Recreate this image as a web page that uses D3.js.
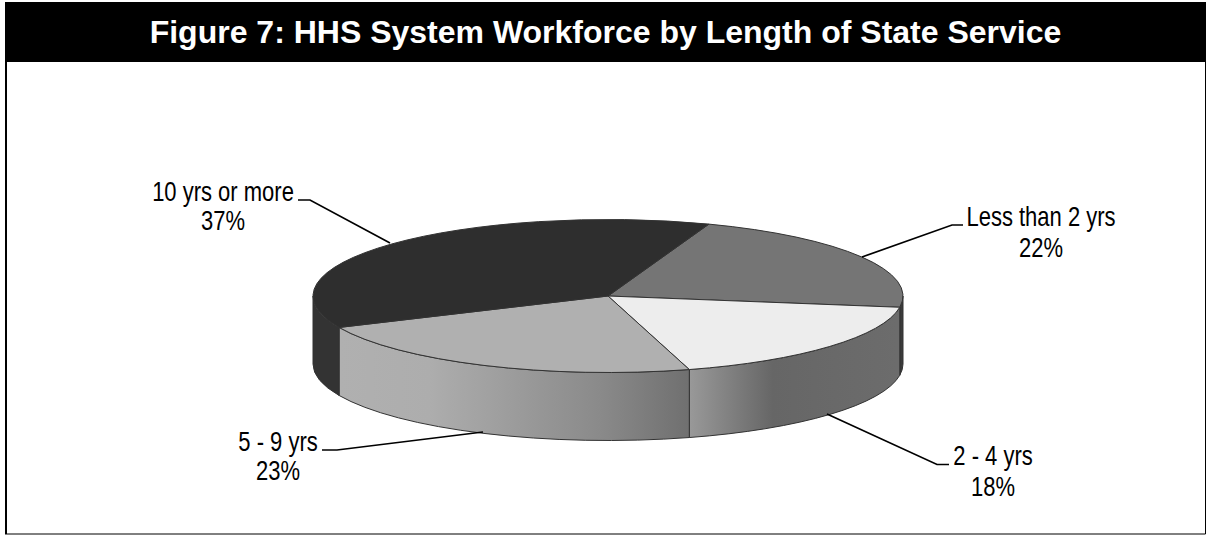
<!DOCTYPE html>
<html>
<head>
<meta charset="utf-8">
<script src="https://cdn.jsdelivr.net/npm/d3@7"></script>
<style>
body { margin: 0; background: #fff; }
text { font-family: "Liberation Sans", Arial, sans-serif; fill: #000; }
</style>
</head>
<body>
<script>
// data
var categories = ["Less than 2 yrs", "2 - 4 yrs", "5 - 9 yrs", "10 yrs or more"];
var values = [21.8, 18.2, 22.7, 37.3];
var topColors = ["#757575", "#ededed", "#b0b0b0", "#2e2e2e"];
var title = "Figure 7: HHS System Workforce by Length of State Service";

var width = 1206, height = 535;
var cx = 608, cy = 296, rx = 295, ry = 76.5, depth = 68;
var startDeg = 20;

var svg = d3.select("body").append("svg")
    .attr("width", width)
    .attr("height", height)
    .style("display", "block");

// frame and title bar
svg.append("path").attr("d", "M6,2V534").attr("stroke", "#000").attr("stroke-width", 2);
svg.append("path").attr("d", "M5,534H1205.5V2").attr("fill", "none").attr("stroke", "#000").attr("stroke-width", 1);
svg.append("rect").attr("x", 5).attr("y", 2).attr("width", 1201).attr("height", 60).attr("fill", "#000");
svg.append("text").attr("x", 605.5).attr("y", 42.5).attr("text-anchor", "middle")
    .style("font-weight", "bold").style("font-size", "32px").style("fill", "#fff")
    .text(title);

var pie = d3.pie().sort(null)
    .startAngle(startDeg * Math.PI / 180)
    .endAngle((startDeg + 360) * Math.PI / 180);
var arcs = pie(values);

var defs = svg.append("defs");
function wallGrad(id, stops) {
    var x0 = stops[0][0], x1 = stops[stops.length - 1][0];
    var g = defs.append("linearGradient").attr("id", id)
        .attr("gradientUnits", "userSpaceOnUse")
        .attr("x1", x0).attr("x2", x1).attr("y1", 0).attr("y2", 0);
    stops.forEach(function(s) {
        g.append("stop").attr("offset", (s[0] - x0) / (x1 - x0)).attr("stop-color", s[1]);
    });
}
wallGrad("wall0", [[897, "#3a3a3a"], [903, "#3a3a3a"]]);
wallGrad("wall1", [[689, "#999999"], [773, "#666666"], [897, "#6c6c6c"]]);
wallGrad("wall2", [[340, "#b0b0b0"], [430, "#adadad"], [600, "#8a8a8a"], [688, "#707070"]]);
wallGrad("wall3", [[313, "#333333"], [340, "#333333"]]);

// side wall of one slice between two angles, only the front half shows
function px(a) { return cx + rx * Math.sin(a); }
function py(a) { return cy - ry * Math.cos(a); }
function wallPath(a0, a1) {
    return "M" + px(a0) + "," + py(a0)
        + "A" + rx + "," + ry + " 0 0 1 " + px(a1) + "," + py(a1)
        + "L" + px(a1) + "," + (py(a1) + depth)
        + "A" + rx + "," + ry + " 0 0 0 " + px(a0) + "," + (py(a0) + depth) + "Z";
}
var lo = Math.PI / 2, hi = 3 * Math.PI / 2;
arcs.forEach(function(d, i) {
    var a0 = Math.max(d.startAngle, lo), a1 = Math.min(d.endAngle, hi);
    if (a1 <= a0) return;
    svg.append("path").attr("d", wallPath(a0, a1))
        .attr("fill", "url(#wall" + i + ")")
        .attr("stroke", "#333").attr("stroke-width", 1);
});

// top face: arc squashed to an ellipse
var arc = d3.arc().innerRadius(0).outerRadius(rx);
var topG = svg.append("g").attr("transform", "translate(" + cx + "," + cy + ") scale(1," + (ry / rx) + ")");
topG.selectAll("path").data(arcs).enter().append("path")
    .attr("d", arc)
    .attr("fill", function(d, i) { return topColors[i]; })
    .attr("stroke", "#333").attr("stroke-width", 1)
    .attr("vector-effect", "non-scaling-stroke");

// leader lines
var leaders = [
    [[862, 257], [952, 225], [963, 225]],
    [[827, 414], [937, 464.5], [949, 464.5]],
    [[483, 432], [337, 450], [322, 450]],
    [[390, 243], [310, 200], [298, 200]]
];
var line = d3.line();
svg.selectAll(".leader").data(leaders).enter().append("path")
    .attr("class", "leader").attr("d", line)
    .attr("fill", "none").attr("stroke", "#000").attr("stroke-width", 1.7);

// labels, no narrow font here so squeeze the regular one
var labelPos = [[1041, 226, 257], [993, 465, 496], [278, 451, 480], [223, 200.5, 230]];
var labelScale = 0.8;
categories.forEach(function(c, i) {
    [c, Math.round(values[i]) + "%"].forEach(function(t, j) {
        svg.append("text")
            .attr("transform", "translate(" + labelPos[i][0] + "," + labelPos[i][j + 1] + ") scale(" + labelScale + ",1)")
            .attr("text-anchor", "middle")
            .style("font-size", "27.5px")
            .text(t);
    });
});
</script>
</body>
</html>
